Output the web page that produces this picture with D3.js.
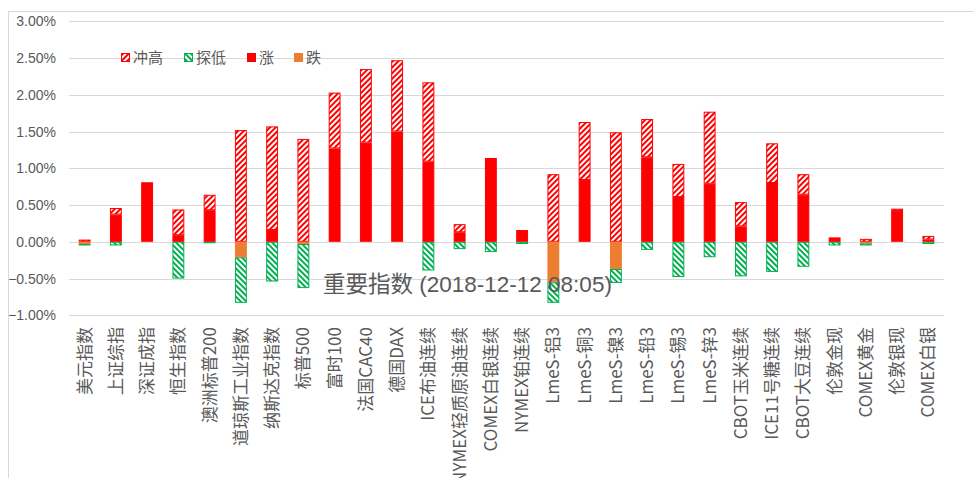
<!DOCTYPE html>
<html>
<head>
<meta charset="utf-8">
<script src="https://cdn.jsdelivr.net/npm/d3@7"></script>
<style>
    body { margin: 0; background: #fff; }
    svg { display: block; }
    text { font-family: "Liberation Sans", "Noto Sans CJK SC", sans-serif; fill: #595959; }
</style>
</head>
<body>
<svg id="chart"></svg>
<script>
// categories and values (percent)
const categories = ["美元指数", "上证综指", "深证成指", "恒生指数", "澳洲标普200", "道琼斯工业指数", "纳斯达克指数",
    "标普500", "富时100", "法国CAC40", "德国DAX", "ICE布油连续", "NYMEX轻质原油连续", "COMEX白银连续",
    "NYMEX铂连续", "LmeS-铝3", "LmeS-铜3", "LmeS-镍3", "LmeS-铅3", "LmeS-锡3", "LmeS-锌3",
    "CBOT玉米连续", "ICE11号糖连续", "CBOT大豆连续", "伦敦金现", "COMEX黄金", "伦敦银现", "COMEX白银"];
const rise = [0, 0.37, 0.81, 0.09, 0.43, 0, 0.16, 0, 1.27, 1.35, 1.50, 1.09, 0.13, 1.14,
    0.16, 0, 0.84, 0, 1.15, 0.61, 0.79, 0.21, 0.80, 0.64, 0.06, 0, 0.42, 0.03];
const high = [0.03, 0.09, 0, 0.35, 0.21, 1.52, 1.41, 1.40, 0.76, 1.00, 0.97, 1.08, 0.11, 0,
    0, 0.92, 0.79, 1.49, 0.52, 0.45, 0.98, 0.33, 0.54, 0.28, 0.01, 0.04, 0.03, 0.05];
const fall = [-0.03, 0, 0, 0, 0, -0.21, 0, -0.03, 0, 0, 0, 0, 0, 0,
    0, -0.55, 0, -0.37, 0, 0, 0, 0, 0, 0, 0, -0.02, 0, 0];
const low = [-0.02, -0.05, 0, -0.50, -0.02, -0.62, -0.54, -0.60, 0, 0, 0, -0.39, -0.10, -0.14,
    -0.03, -0.28, 0, -0.19, -0.11, -0.48, -0.21, -0.47, -0.41, -0.34, -0.05, -0.03, 0, -0.03];
const yTicks = [-0.01, -0.005, 0, 0.005, 0.01, 0.015, 0.02, 0.025, 0.03];
const title = "重要指数 (2018-12-12 08:05)";

const width = 974, height = 478;
const svg = d3.select("#chart").attr("width", width).attr("height", height);

const RED = "#ff0000", GREEN = "#00b050", ORANGE = "#ed7d31";

const defs = svg.append("defs");
function hatch(id, color, angle) {
    const p = defs.append("pattern")
        .attr("id", id)
        .attr("patternUnits", "userSpaceOnUse")
        .attr("width", 4).attr("height", 4)
        .attr("patternTransform", `rotate(${angle})`);
    p.append("rect").attr("width", 4).attr("height", 4).attr("fill", "#fff");
    p.append("rect").attr("width", 2).attr("height", 4).attr("fill", color);
}
hatch("hatch-red", RED, 45);
hatch("hatch-green", GREEN, -45);

// outer chart border
svg.append("rect")
    .attr("x", 8.5).attr("y", 11.5)
    .attr("width", width + 20).attr("height", height + 20)
    .attr("fill", "none").attr("stroke", "#d9d9d9");

const x = d3.scaleBand()
    .domain(categories)
    .range([69, 944])
    .paddingInner(0.62)
    .paddingOuter(0.31);

const y = d3.scaleLinear()
    .domain([-0.01, 0.03])
    .range([315.3, 21.3]);

// gridlines
svg.append("g")
    .selectAll("line")
    .data(yTicks)
    .join("line")
    .attr("x1", 69).attr("x2", 944)
    .attr("y1", d => Math.round(y(d)) + 0.5)
    .attr("y2", d => Math.round(y(d)) + 0.5)
    .attr("stroke", "#d9d9d9");

// y axis labels
const yAxis = d3.axisLeft(y).tickValues(yTicks).tickFormat(d3.format(".2%")).tickSize(0).tickPadding(0);
svg.append("g")
    .attr("transform", "translate(56,0)")
    .call(yAxis)
    .call(g => g.select(".domain").remove())
    .selectAll("text")
    .attr("font-size", 14)
    .style("font-family", "'Liberation Sans', sans-serif")
    .attr("fill", "#595959");

// stacked series
const rows = categories.map((c, i) => ({ cat: c, rise: rise[i] / 100, high: high[i] / 100, fall: fall[i] / 100, low: low[i] / 100 }));
const series = d3.stack()
    .keys(["rise", "high", "fall", "low"])
    .offset(d3.stackOffsetDiverging)(rows);

const styles = {
    rise: { fill: RED, stroke: RED },
    high: { fill: "url(#hatch-red)", stroke: RED },
    fall: { fill: ORANGE, stroke: ORANGE },
    low: { fill: "url(#hatch-green)", stroke: GREEN }
};

const bars = svg.append("g");
["high", "low", "rise", "fall"].forEach(key => {
    const s = series.find(d => d.key === key);
    bars.append("g")
        .selectAll("rect")
        .data(s.filter(d => d[1] - d[0] !== 0))
        .join("rect")
        .attr("x", d => x(d.data.cat) + 0.5)
        .attr("width", x.bandwidth() - 1)
        .attr("y", d => y(d[1]) + 0.5)
        .attr("height", d => Math.max(0, y(d[0]) - y(d[1]) - 1))
        .attr("fill", styles[key].fill)
        .attr("stroke", styles[key].stroke)
        .attr("stroke-width", 1);
});

// category labels
svg.append("g")
    .selectAll("text")
    .data(categories)
    .join("text")
    .attr("transform", d => `translate(${x(d) + x.bandwidth() / 2 + 6},327) rotate(-90)`)
    .attr("text-anchor", "end")
    .attr("font-size", 17)
    .style("font-family", "'Noto Sans CJK SC', sans-serif")
    .attr("fill", "#6a6a6a")
    .text(d => d);

// legend
const legendItems = [
    { name: "冲高", key: "high", x: 121 },
    { name: "探低", key: "low", x: 184 },
    { name: "涨", key: "rise", x: 247 },
    { name: "跌", key: "fall", x: 294 }
];
const legend = svg.append("g");
legendItems.forEach(it => {
    legend.append("rect")
        .attr("x", it.x + 0.5).attr("y", 53.5)
        .attr("width", 8).attr("height", 8)
        .attr("fill", styles[it.key].fill)
        .attr("stroke", styles[it.key].stroke);
    legend.append("text")
        .attr("x", it.x + 12).attr("y", 63)
        .attr("font-size", 15)
        .style("font-family", "'Noto Sans CJK SC', sans-serif")
        .text(it.name);
});

// title
svg.append("text")
    .attr("x", 323).attr("y", 292)
    .attr("font-size", 22.5)
    .attr("fill", "#595959")
    .text(title);
</script>
</body>
</html>
